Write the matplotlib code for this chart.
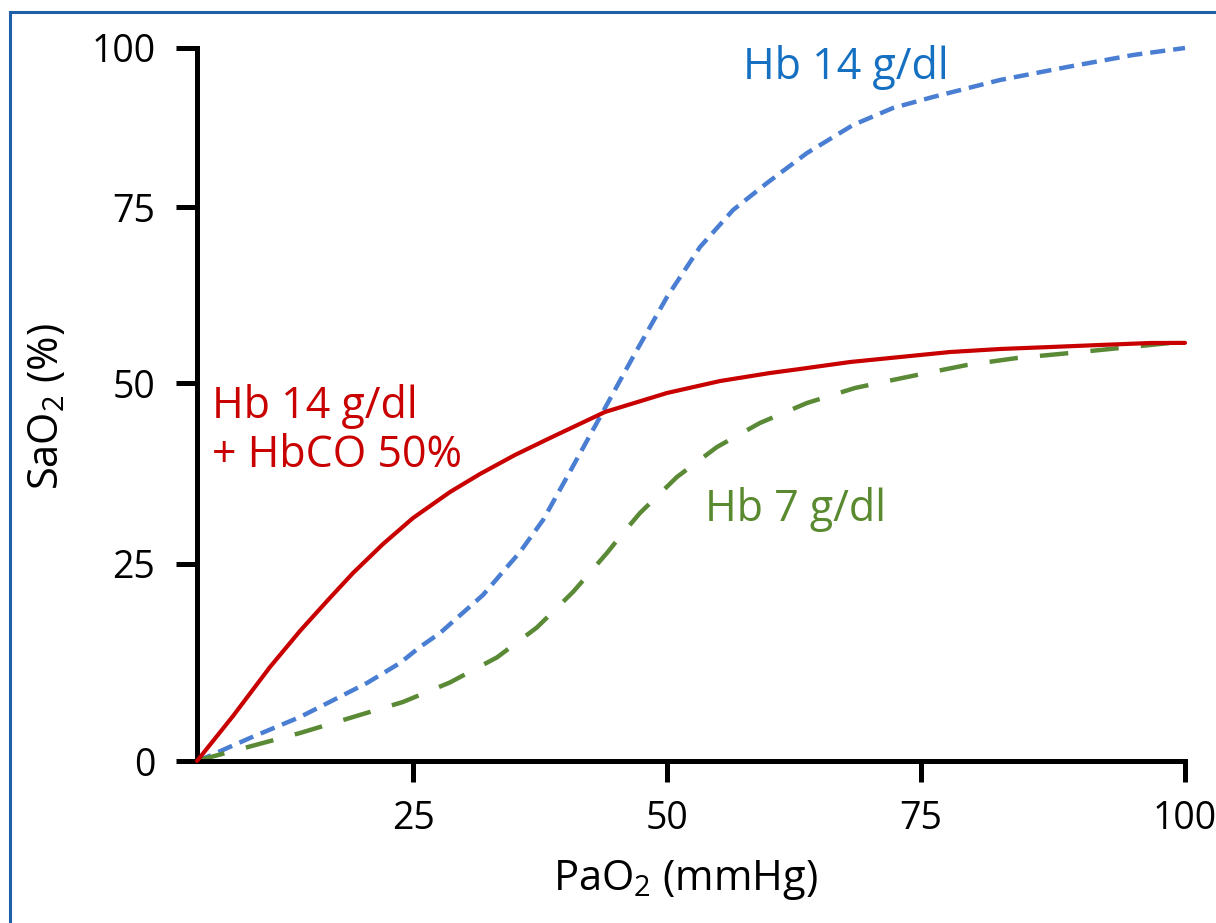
import numpy as np
import matplotlib
matplotlib.use("Agg")
import matplotlib.pyplot as plt
from matplotlib.lines import Line2D

plt.rcParams['font.family'] = ['Open Sans', 'DejaVu Sans']
plt.rcParams['mathtext.fontset'] = 'custom'
plt.rcParams['mathtext.rm'] = 'Open Sans'
plt.rcParams['mathtext.it'] = 'Open Sans'

# ---- data ----
red_x = [0, 4.17, 8.45, 11.92, 15.16, 18.06, 21.53, 25.0, 28.64, 31.59, 35.04, 38.48,
         43.90, 50.0, 55.22, 60.14, 63.09, 68.01, 72.93, 77.75, 82.48, 87.22, 91.95,
         96.69, 100]
red_y = [0, 5.71, 11.93, 16.5, 20.43, 23.86, 27.76, 31.35, 34.94, 37.43, 40.06, 42.40,
         46.0, 48.62, 50.28, 51.42, 51.99, 52.98, 53.69, 54.40, 54.83, 55.11, 55.40,
         55.68, 55.7]

blue_x = [0, 1.16, 6.13, 11.92, 19.68, 23.50, 25.69, 27.66, 31.89, 35.53, 37.80, 40.16,
          43.41, 46.65, 50.0, 53.25, 56.50, 59.84, 63.78, 68.31, 72.24, 76.14, 82.48,
          88.83, 95.08, 100]
blue_y = [0, 0.51, 2.92, 5.58, 9.90, 12.44, 14.47, 16.24, 21.07, 26.66, 31.08, 37.02,
          45.30, 53.69, 62.22, 69.32, 74.57, 78.77, 83.49, 87.89, 90.57, 92.30, 94.97,
          97.01, 98.90, 100]

green_x = [0, 1.16, 11.92, 23.84, 28.64, 33.27, 37.20, 40.75, 44.09, 45.67, 47.34, 50.98,
           54.92, 59.15, 63.78, 68.50, 71.26, 74.61, 79.36, 84.09, 89.11, 93.84, 98.58, 100]
green_y = [0, 0.38, 3.55, 7.49, 9.97, 13.15, 16.95, 21.45, 26.52, 29.28, 32.04, 37.02,
           41.16, 44.48, 47.24, 49.31, 50.14, 51.14, 52.56, 53.55, 54.26, 54.97, 55.68, 55.7]

x_ticks = [25, 50, 75, 100]
y_ticks = [0, 25, 50, 75, 100]

# non-uniform axis spacing as drawn in the reference
x_knots = [0, 25, 50, 75, 100]
x_pos = [0, 216, 470, 724, 988]
y_knots = [0, 25, 50, 75, 100]
y_pos = [0, 197, 378, 554, 713]


def make_funcs(knots, pos):
    k = np.asarray(knots, float)
    p = np.asarray(pos, float)
    s0 = (p[1] - p[0]) / (k[1] - k[0])
    s1 = (p[-1] - p[-2]) / (k[-1] - k[-2])

    def fwd(v):
        v = np.asarray(v, float)
        out = np.interp(v, k, p)
        out = np.where(v < k[0], p[0] + (v - k[0]) * s0, out)
        out = np.where(v > k[-1], p[-1] + (v - k[-1]) * s1, out)
        return out

    def inv(u):
        u = np.asarray(u, float)
        out = np.interp(u, p, k)
        out = np.where(u < p[0], k[0] + (u - p[0]) / s0, out)
        out = np.where(u > p[-1], k[-1] + (u - p[-1]) / s1, out)
        return out

    return fwd, inv


W, H = 1216, 923
fig = plt.figure(figsize=(W / 100, H / 100), dpi=100)
ax = fig.add_axes([197 / W, (H - 761) / H, (1185 - 197) / W, (761 - 48) / H])

ax.set_xscale('function', functions=make_funcs(x_knots, x_pos))
ax.set_yscale('function', functions=make_funcs(y_knots, y_pos))

red_c = '#c80000'
blue_line = '#4a7ed2'
green_line = '#5a8a36'

ax.plot(red_x, red_y, color=red_c, lw=3.0, solid_capstyle='round', solid_joinstyle='round',
        clip_on=False, zorder=3)
ax.plot(blue_x, blue_y, color=blue_line, lw=3.2, linestyle=(0, (3.4, 1.8)),
        dash_capstyle='butt', clip_on=False, zorder=2)
ax.plot(green_x, green_y, color=green_line, lw=3.2, linestyle=(0, (6.4, 5.0)),
        dash_capstyle='butt', clip_on=False, zorder=2)

ax.set_xlim(0, 100)
ax.set_ylim(0, 100)
ax.set_xticks(x_ticks)
ax.set_xticklabels([str(t) for t in x_ticks])
ax.set_yticks(y_ticks)
ax.set_yticklabels([str(t) for t in y_ticks])
ax.minorticks_off()

for s in ['top', 'right']:
    ax.spines[s].set_visible(False)
for s in ['left', 'bottom']:
    ax.spines[s].set_linewidth(3.6)
    ax.spines[s].set_color('black')
    ax.spines[s].set_capstyle('projecting')

ax.tick_params(axis='both', direction='out', length=15, width=3.6, color='black',
               labelsize=27, labelcolor='black')
ax.tick_params(axis='y', pad=15)
ax.tick_params(axis='x', pad=13)

ax.set_xlabel('PaO$_2$ (mmHg)', fontsize=30)
ax.set_ylabel('SaO$_2$ (%)', fontsize=30)
ax.xaxis.set_label_coords((685 - 197) / (1185 - 197), -(858 - 761) / (761 - 48))
ax.yaxis.set_label_coords(-(197 - 68) / (1185 - 197), (761 - 407) / (761 - 48))

fig.text(743 / W, 1 - 67 / H, 'Hb 14 g/dl', color='#1670c2', fontsize=31,
         ha='left', va='center')
fig.text(212 / W, 1 - 431 / H, 'Hb 14 g/dl\n+ HbCO 50%', color=red_c, fontsize=31,
         ha='left', va='center', linespacing=1.15)
fig.text(705 / W, 1 - 510 / H, 'Hb 7 g/dl', color='#5a8a30', fontsize=31,
         ha='left', va='center')

# partial blue frame (top and left edges)
border_c = '#1f5fa8'
fig.add_artist(Line2D([10 / W, 1.0], [1 - 12 / H, 1 - 12 / H], transform=fig.transFigure,
                      color=border_c, lw=2.2))
fig.add_artist(Line2D([10 / W, 10 / W], [0, 1 - 12 / H], transform=fig.transFigure,
                      color=border_c, lw=2.2))

fig.savefig('out.png', dpi=100)
